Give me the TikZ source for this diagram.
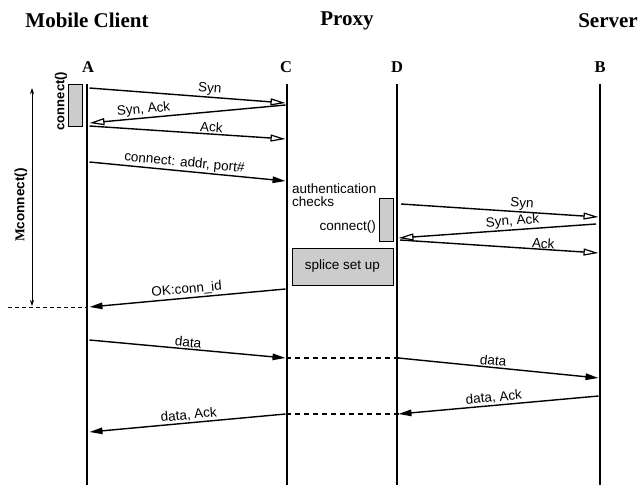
\documentclass[tikz,border=0pt]{standalone}
\usepackage{fontspec}
\setmainfont{Liberation Serif}
\setsansfont{Liberation Sans}
\usetikzlibrary{arrows.meta}
\begin{document}
\begin{tikzpicture}[x=1pt,y=-1pt,
  life/.style={line width=2.8pt},
  msg/.style={line width=1.4pt,-{Triangle[length=13pt,width=6.5pt]}},
  omsg/.style={line width=1.4pt,-{Triangle[open,length=15pt,width=7pt,line width=1.2pt]}},
  lbl/.style={font=\sffamily\fontsize{13.5}{15}\selectfont, sloped, above, inner sep=1.2pt},
  hdr/.style={font=\bfseries\fontsize{21}{24}\selectfont},
  ltr/.style={font=\bfseries\fontsize{16.5}{18}\selectfont},
  proc/.style={draw, line width=1pt, fill=gray!40},
  txt/.style={font=\sffamily\fontsize{13.5}{13}\selectfont, inner sep=0pt},
]
\useasboundingbox (0,0) rectangle (639,485);
% headers
\node[hdr] (hMC) at (87,20) {Mobile Client};
\node[hdr] (hP) at (347,21) {Proxy};
\node[hdr] (hS) at (608,21) {Server};
\node[ltr] (lA) at (88,67) {A};
\node[ltr] (lC) at (286,67) {C};
\node[ltr] (lD) at (397,67) {D};
\node[ltr] (lB) at (600,67) {B};
% lifelines
\coordinate (A0) at (87,84); \coordinate (A1) at (87,485);
\coordinate (C0) at (287,84); \coordinate (C1) at (287,485);
\coordinate (D0) at (397,84); \coordinate (D1) at (397,485);
\coordinate (B0) at (600,84); \coordinate (B1) at (600,485);
\draw[life] (A0) -- (A1);
\draw[life] (C0) -- (C1);
\draw[life] (D0) -- (D1);
\draw[life] (B0) -- (B1);
% connect() box at A
\node[proc, minimum width=14pt, minimum height=42pt, inner sep=0pt] (cbA) at (75,105) {};
\node[font=\sffamily\bfseries\fontsize{13}{14}\selectfont, rotate=90] (cbAl) at (61,101) {connect()};
% Mconnect interval
\coordinate (M0) at (32,88); \coordinate (M1) at (32,306);
\draw[line width=0.8pt, {Stealth[length=6pt,width=4pt]}-{Stealth[length=6pt,width=4pt]}] (M0) -- (M1);
\node[rotate=90, font=\bfseries\fontsize{13.5}{15}\selectfont] (Ml) at (21,205) {M\sffamily connect()};
\coordinate (dl0) at (8,307);
\draw[dashed, line width=1pt, dash pattern=on 4pt off 3pt] (dl0) -- (A1 |- dl0);
% handshake A-C
\coordinate (a1) at (89.5,88); \coordinate (c1) at (285.5,103);
\draw[omsg] (a1) -- node[lbl, pos=0.61] {Syn} (c1);
\coordinate (c2) at (285.5,105); \coordinate (a2) at (89.5,123);
\draw[omsg] (c2) -- node[lbl, pos=0.72] {Syn, Ack} (a2);
\coordinate (a3) at (89.5,126); \coordinate (c3) at (285.5,139);
\draw[omsg] (a3) -- node[lbl, pos=0.62] {Ack} (c3);
\coordinate (a4) at (89.5,162); \coordinate (c4) at (285.5,181);
\draw[msg] (a4) -- node[lbl, pos=0.48] {connect: addr, port\#} (c4);
% proxy
\node[txt, align=left, anchor=north west] (auth) at (292,184) {authentication\\checks};
\node[proc, minimum width=14pt, minimum height=43pt, inner sep=0pt] (cbD) at (386,220) {};
\node[txt, anchor=east] (cbDl) at (376,227) {connect()};
\node[proc, minimum width=101pt, minimum height=37pt, inner sep=0pt, font=\sffamily\fontsize{13.5}{14}\selectfont] (splice) at (342.5,266.5) {splice set up};
% handshake D-B
\coordinate (d1) at (401,204); \coordinate (b1) at (598.5,217);
\draw[omsg] (d1) -- node[lbl, pos=0.61] {Syn} (b1);
\coordinate (b2) at (596,224); \coordinate (d2) at (398.5,238);
\draw[omsg] (b2) -- node[lbl, pos=0.42] {Syn, Ack} (d2);
\coordinate (d3) at (400,240); \coordinate (b3) at (598.5,253);
\draw[omsg] (d3) -- node[lbl, pos=0.72, inner sep=0pt] {Ack} (b3);
% OK
\coordinate (c5) at (285.5,289); \coordinate (a5) at (89.5,307);
\draw[msg] (c5) -- node[lbl, pos=0.5] {OK:conn\_id} (a5);
% data
\coordinate (a6) at (89.5,340); \coordinate (c6) at (285.5,358);
\draw[msg] (a6) -- node[lbl, pos=0.5] {data} (c6);
\coordinate (d6) at (398.5,358);
\draw[dashed, line width=1.2pt, dash pattern=on 5pt off 4pt] (c6) -- (d6);
\coordinate (b6) at (598.5,378);
\draw[msg] (d6) -- node[lbl, pos=0.47] {data} (b6);
\coordinate (b7) at (598.5,396); \coordinate (d7) at (398.5,414);
\draw[msg] (b7) -- node[lbl, pos=0.52] {data, Ack} (d7);
\coordinate (c7) at (285.5,414);
\draw[dashed, line width=1.2pt, dash pattern=on 5pt off 4pt] (d7) -- (c7);
\coordinate (a7) at (89.5,432);
\draw[msg] (c7) -- node[lbl, pos=0.49] {data, Ack} (a7);
\end{tikzpicture}
\end{document}
